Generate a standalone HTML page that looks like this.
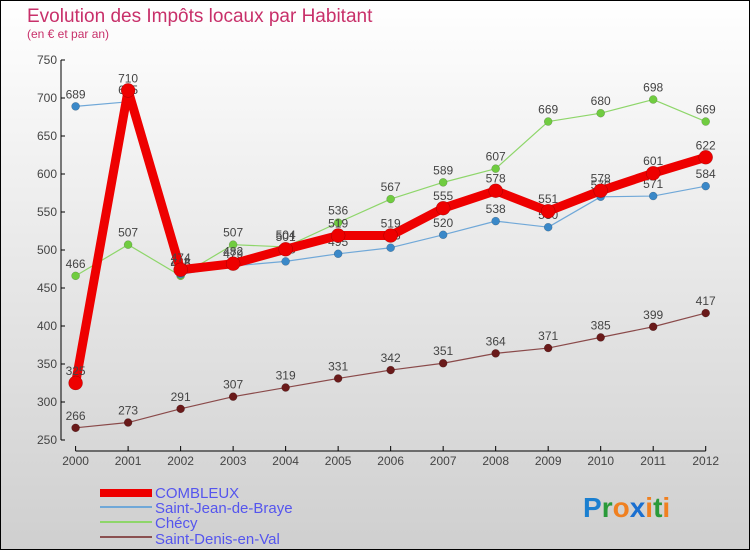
<!DOCTYPE html>
<html><head><meta charset="utf-8"><style>
body{margin:0;}
#wrap{position:relative;width:750px;height:550px;overflow:hidden;background:linear-gradient(#ffffff,#cfcfcf);font-family:"Liberation Sans",sans-serif;}
#frame{position:absolute;left:0;top:0;width:748px;height:548px;border:1px solid #000;}
svg text{font-family:"Liberation Sans",sans-serif;}
</style></head><body>
<div id="wrap">
<div id="frame"></div>
<svg id="chart" width="750" height="550" style="position:absolute;left:0;top:0">
<text x="27" y="22" font-size="19" fill="#c8306a">Evolution des Impôts locaux par Habitant</text>
<text x="27" y="38" font-size="12" fill="#c8306a">(en € et par an)</text>
<g id="axes"></g><g id="series"></g>
<g>
<rect x="100" y="489" width="52" height="8" fill="#e00"/>
<text x="155" y="498" font-size="15" fill="#5555ee">COMBLEUX</text>
<rect x="100" y="506" width="52" height="2" fill="#70a8d8"/>
<text x="155" y="513" font-size="15" fill="#5555ee">Saint-Jean-de-Braye</text>
<rect x="100" y="521" width="52" height="2" fill="#8ed66a"/>
<text x="155" y="528" font-size="15" fill="#5555ee">Chécy</text>
<rect x="100" y="536" width="52" height="2" fill="#8a5050"/>
<text x="155" y="544" font-size="15" fill="#5555ee">Saint-Denis-en-Val</text>
</g>
<g font-size="28" font-weight="bold">
<text x="583" y="517"><tspan fill="#1a7fd0">P</tspan><tspan fill="#2a9a3a">r</tspan><tspan fill="#f08020">o</tspan><tspan fill="#1a6fd0">x</tspan><tspan fill="#f08020">i</tspan><tspan fill="#2a9a3a">t</tspan><tspan fill="#f08020">i</tspan></text>
</g>
</svg>
</div>
<script>
const years=[2000,2001,2002,2003,2004,2005,2006,2007,2008,2009,2010,2011,2012];
const yTicks=[250,300,350,400,450,500,550,600,650,700,750];
const combleux=[325,710,474,482,501,519,519,555,578,551,578,601,622];
const saintJean=[689,695,468,479,485,495,503,520,538,530,570,571,584];
const checy=[466,507,466,507,504,536,567,589,607,669,680,698,669];
const saintDenis=[266,273,291,307,319,331,342,351,364,371,385,399,417];
const NS="http://www.w3.org/2000/svg";
const X=i=>75.6+i*(705.7-75.6)/(years.length-1);
const Y=v=>440-(v-250)*(380/500);
function mk(tag,attrs,parent){const e=document.createElementNS(NS,tag);for(const k in attrs)e.setAttribute(k,attrs[k]);parent.appendChild(e);return e;}
const axes=document.getElementById('axes');
let yl=mk('line',{x1:61,x2:61,y1:Y(750),y2:Y(250),stroke:'#000'},axes);


yTicks.forEach(t=>{
 mk('line',{x1:61,x2:65,y1:Y(t),y2:Y(t),stroke:'#000'},axes);
 const tx=mk('text',{x:57,y:Y(t)+4,'font-size':12,fill:'#444','text-anchor':'end'},axes);
 tx.textContent=t;
 
 
});
let xl=mk('line',{x1:75.6,x2:705.7,y1:451,y2:451,stroke:'#000'},axes);


years.forEach((y,i)=>{
 mk('line',{x1:X(i),x2:X(i),y1:446,y2:451,stroke:'#000'},axes);
 const tx=mk('text',{x:X(i),y:465,'font-size':12,fill:'#444','text-anchor':'middle'},axes);
 tx.textContent=y;
 
 
});
const sg=document.getElementById('series');
function draw(vals,color,w,r,name,ptColor){
 const g=mk('g',{},sg);
 
 
 const pl=mk('polyline',{points:vals.map((v,i)=>X(i)+','+Y(v)).join(' '),fill:'none',stroke:color,'stroke-width':w,'stroke-linejoin':'round'},g);
 
 
 vals.forEach((v,i)=>{
  const c=mk('circle',{cx:X(i),cy:Y(v),r:r,fill:ptColor,stroke:'rgba(0,0,0,0.3)','stroke-width':0.5},g);
  
  
  const t=mk('text',{x:X(i),y:Y(v)-8,'font-size':12,fill:'#444','text-anchor':'middle'},g);
  t.textContent=v;
  
  
 });
}
draw(saintDenis,'#8a4a4a',1.2,4,'saint-denis','#6a1a1a');
draw(checy,'#8ed66a',1.2,4,'checy','#70cc40');
draw(saintJean,'#70a8d8',1.2,4,'saint-jean','#3a88c8');
draw(combleux,'#ee0000',9,7,'combleux','#ee0000');
</script>
</body></html>
